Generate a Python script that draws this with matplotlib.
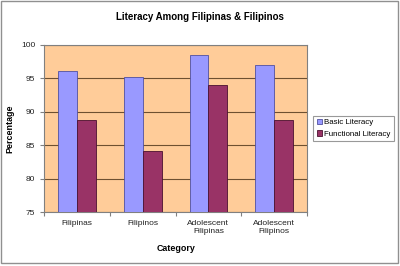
import matplotlib as mpl
mpl.use("Agg")
import matplotlib.pyplot as plt
import numpy as np
from matplotlib.patches import Rectangle

plt.rcParams['font.family'] = ['Liberation Sans', 'DejaVu Sans']

categories = ["Filipinas", "Filipinos", "Adolescent\nFilipinas", "Adolescent\nFilipinos"]
basic = [96.1, 95.2, 98.5, 97.0]
functional = [88.7, 84.2, 94.0, 88.7]

fig = plt.figure(figsize=(4, 2.66), dpi=100)
fig.patches.append(Rectangle((0.002, 0.01), 0.994, 0.985, transform=fig.transFigure,
                             fill=False, edgecolor="#909090", linewidth=1))
ax = fig.add_axes([0.111, 0.203, 0.656, 0.628])
ax.set_facecolor("#FFCC99")

x = np.arange(len(categories))
w = 1 / 3.5
ax.bar(x - w / 2, basic, w, color="#9999FF", edgecolor="#5050A0", linewidth=0.6,
       label="Basic Literacy", zorder=3)
ax.bar(x + w / 2, functional, w, color="#993366", edgecolor="#4a1030", linewidth=0.6,
       label="Functional Literacy", zorder=3)

ax.set_xlim(-0.5, 3.5)
ax.set_ylim(75, 100)
ax.set_yticks([75, 80, 85, 90, 95, 100])
ax.yaxis.grid(True, color="#6e5030", linewidth=0.8, zorder=1)
ax.set_xticks(np.arange(-0.5, 4, 1))
ax.set_xticklabels([])
ax.set_xticks(x, minor=True)
ax.set_xticklabels(categories, minor=True, fontsize=6.0, color="#222222")
ax.tick_params(axis="x", which="minor", length=0, pad=6)
ax.tick_params(axis="x", which="major", length=3, color="#808080")
ax.tick_params(axis="y", length=3, color="#808080", labelsize=6.0, labelcolor="#222222")
for sp in ax.spines.values():
    sp.set_color("#808080")
    sp.set_linewidth(0.8)

fig.text(0.5, 0.935, "Literacy Among Filipinas & Filipinos", fontsize=7.0,
         fontweight="bold", ha="center", va="center")
ax.set_xlabel("Category", fontsize=6.4, fontweight="bold", labelpad=6)
ax.yaxis.set_label_coords(-0.115, 0.5)
ax.set_ylabel("Percentage", fontsize=6.4, fontweight="bold")

leg = ax.legend(loc="center left", bbox_to_anchor=(1.025, 0.5), fontsize=5.7,
                frameon=True, fancybox=False, edgecolor="#808080",
                handlelength=0.7, handleheight=0.7, handletextpad=0.3,
                borderpad=0.4, labelspacing=0.5, borderaxespad=0)
leg.get_frame().set_linewidth(0.8)

fig.savefig("out.png", dpi=100)
